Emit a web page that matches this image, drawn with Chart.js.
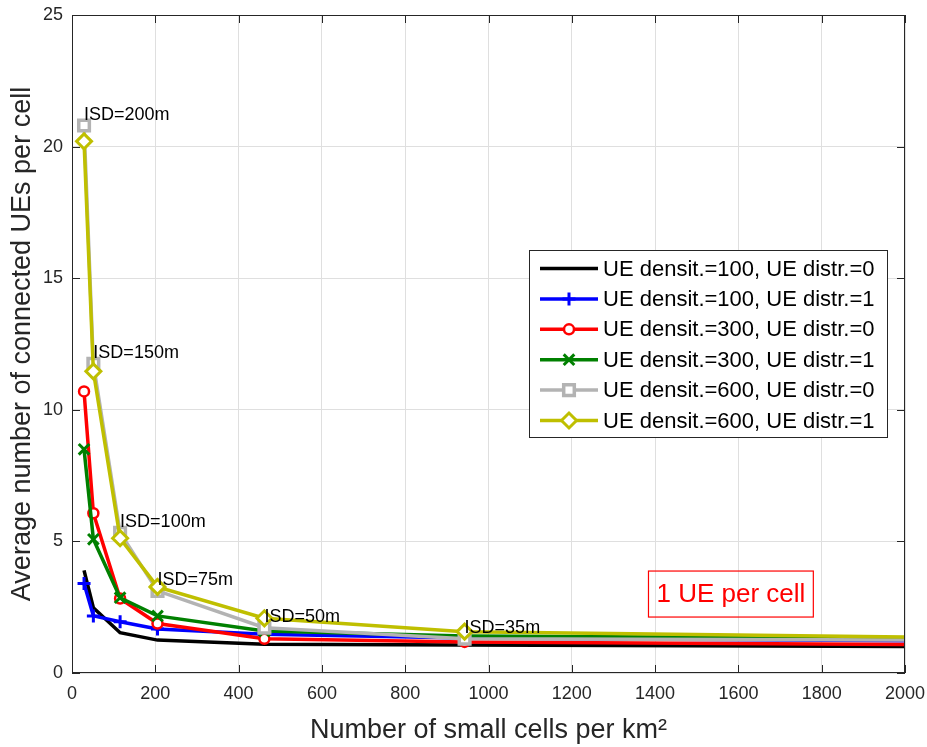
<!DOCTYPE html>
<html>
<head>
<meta charset="utf-8">
<script src="https://cdn.jsdelivr.net/npm/chart.js@4.4.0/dist/chart.umd.min.js"></script>
<style>
  html, body { margin: 0; padding: 0; background: #fff; }
  #chart { display: block; }
</style>
</head>
<body>
<canvas id="chart" width="927" height="747"></canvas>
<script>
// small cell densities (per km^2) for ISD = 200, 150, 100, 75, 50, 35, 20 m
const density = [28.9, 51.3, 115.5, 205.3, 461.9, 942.6, 2887];
const isdLabels = ["ISD=200m", "ISD=150m", "ISD=100m", "ISD=75m", "ISD=50m", "ISD=35m"];

// average connected UEs per cell
const ue100d0 = [3.9, 2.48, 1.53, 1.25, 1.09, 1.06, 0.97];
const ue100d1 = [3.4, 2.17, 1.95, 1.67, 1.47, 1.33, 1.13];
const ue300d0 = [10.7, 6.07, 2.83, 1.88, 1.3, 1.18, 1.01];
const ue300d1 = [8.5, 5.08, 2.86, 2.17, 1.6, 1.41, 1.24];
const ue600d0 = [20.8, 11.75, 5.33, 3.12, 1.72, 1.3, 1.21];
const ue600d1 = [20.2, 11.46, 5.12, 3.27, 2.08, 1.57, 1.2];

const seriesNames = [
  "UE densit.=100, UE distr.=0",
  "UE densit.=100, UE distr.=1",
  "UE densit.=300, UE distr.=0",
  "UE densit.=300, UE distr.=1",
  "UE densit.=600, UE distr.=0",
  "UE densit.=600, UE distr.=1"
];
const noteText = "1 UE per cell";

const FONT = '"Liberation Sans", Arial, Helvetica, sans-serif';
const AXIS_COLOR = "#262626";

function series(name, values, color, style, radius, bw) {
  return {
    label: name,
    data: values.map((v, i) => ({ x: density[i], y: v })),
    borderColor: color,
    backgroundColor: "#fff",
    borderWidth: 3.5,
    pointStyle: style,
    pointRadius: radius,
    pointBorderWidth: bw,
    pointBorderColor: color,
    pointBackgroundColor: "#fff",
    tension: 0,
    clip: 0
  };
}

const datasets = [
  series(seriesNames[0], ue100d0, "#000000", false, 0, 0),
  series(seriesNames[1], ue100d1, "#0000ff", "cross", 6.5, 3),
  series(seriesNames[2], ue300d0, "#ff0000", "circle", 5, 2.5),
  series(seriesNames[3], ue300d1, "#008000", "crossRot", 7.5, 3),
  series(seriesNames[4], ue600d0, "#b3b3b3", "rect", 7.5, 3.5),
  series(seriesNames[5], ue600d1, "#bfbf00", "rectRot", 7.5, 3)
];
// later series are drawn on top
datasets.forEach((d, i) => { d.order = datasets.length - i; });

// inner tick marks and the box around the plot
const boxPlugin = {
  id: "boxPlugin",
  afterDatasetsDraw(chart) {
    const { ctx, chartArea: a, scales: { x, y } } = chart;
    ctx.save();
    ctx.strokeStyle = AXIS_COLOR;
    ctx.lineWidth = 1;
    ctx.beginPath();
    x.ticks.forEach(t => {
      const px = Math.round(x.getPixelForValue(t.value)) + 0.5;
      ctx.moveTo(px, a.bottom); ctx.lineTo(px, a.bottom - 8);
      ctx.moveTo(px, a.top); ctx.lineTo(px, a.top + 8);
    });
    y.ticks.forEach(t => {
      const py = Math.round(y.getPixelForValue(t.value)) + 0.5;
      ctx.moveTo(a.left, py); ctx.lineTo(a.left + 8, py);
      ctx.moveTo(a.right, py); ctx.lineTo(a.right - 8, py);
    });
    ctx.stroke();
    ctx.strokeRect(a.left + 0.5, a.top + 0.5, a.right - a.left - 1, a.bottom - a.top - 1);
    ctx.restore();
  }
};

// ISD labels next to the top markers, plus the boxed note
const notesPlugin = {
  id: "notesPlugin",
  afterDatasetsDraw(chart) {
    const { ctx, scales: { x, y } } = chart;
    ctx.save();
    ctx.font = "18px " + FONT;
    ctx.fillStyle = "#000";
    ctx.textAlign = "left";
    ctx.textBaseline = "middle";
    isdLabels.forEach((txt, i) => {
      ctx.fillText(txt, x.getPixelForValue(density[i]), y.getPixelForValue(ue600d0[i] + 0.4));
    });

    const cx = x.getPixelForValue(1582), cy = y.getPixelForValue(3.0);
    ctx.font = "26px " + FONT;
    const w = ctx.measureText(noteText).width;
    ctx.strokeStyle = "#ff0000";
    ctx.lineWidth = 1.2;
    ctx.strokeRect(cx - w / 2 - 8, cy - 23, w + 16, 46);
    ctx.fillStyle = "#ff0000";
    ctx.textAlign = "center";
    ctx.fillText(noteText, cx, cy + 1);
    ctx.restore();
  }
};

// legend box with line + marker samples
const legendPlugin = {
  id: "legendPlugin",
  afterDraw(chart) {
    const { ctx } = chart;
    const left = 529.5, top = 250.5, width = 358, height = 187;
    ctx.save();
    ctx.fillStyle = "#fff";
    ctx.fillRect(left, top, width, height);
    ctx.strokeStyle = AXIS_COLOR;
    ctx.lineWidth = 1;
    ctx.strokeRect(left, top, width, height);
    ctx.font = "22px " + FONT;
    ctx.textBaseline = "middle";
    ctx.textAlign = "left";
    chart.data.datasets.forEach((d, i) => {
      const yy = 268.5 + i * 30.4;
      ctx.strokeStyle = d.borderColor;
      ctx.lineWidth = d.borderWidth;
      ctx.beginPath();
      ctx.moveTo(540, yy);
      ctx.lineTo(598, yy);
      ctx.stroke();
      if (d.pointStyle) {
        ctx.fillStyle = "#fff";
        ctx.lineWidth = d.pointBorderWidth;
        Chart.helpers.drawPoint(ctx, {
          pointStyle: d.pointStyle,
          radius: d.pointRadius,
          borderWidth: d.pointBorderWidth,
          rotation: 0
        }, 569, yy);
      }
      ctx.fillStyle = "#000";
      ctx.fillText(d.label, 603, yy + 1);
    });
    ctx.restore();
  }
};

new Chart(document.getElementById("chart"), {
  type: "line",
  data: { datasets: datasets },
  options: {
    responsive: false,
    animation: false,
    devicePixelRatio: 1,
    layout: { padding: { left: 0, top: 15, right: 22, bottom: 0 } },
    plugins: {
      legend: { display: false },
      tooltip: { enabled: false }
    },
    scales: {
      x: {
        type: "linear",
        min: 0,
        max: 2000,
        afterFit: (s) => { s.height = 74; s.paddingLeft = 0; s.paddingRight = 0; },
        ticks: {
          stepSize: 200,
          padding: 10,
          maxRotation: 0,
          color: AXIS_COLOR,
          font: { family: FONT, size: 18 },
          callback: (v) => String(v)
        },
        grid: { color: "#dfdfdf", lineWidth: 1, drawTicks: false },
        border: { display: false },
        title: {
          display: true,
          text: "Number of small cells per km²",
          color: AXIS_COLOR,
          font: { family: FONT, size: 27 },
          padding: { top: 0, bottom: 0 }
        }
      },
      y: {
        type: "linear",
        min: 0,
        max: 25,
        afterFit: (s) => { s.width = 72; s.paddingTop = 0; s.paddingBottom = 0; },
        ticks: {
          stepSize: 5,
          padding: 9,
          color: AXIS_COLOR,
          font: { family: FONT, size: 18 }
        },
        grid: { color: "#dfdfdf", lineWidth: 1, drawTicks: false },
        border: { display: false },
        title: {
          display: true,
          text: "Average number of connected UEs per cell",
          color: AXIS_COLOR,
          font: { family: FONT, size: 27 },
          padding: { top: 6, bottom: 0 }
        }
      }
    }
  },
  plugins: [boxPlugin, notesPlugin, legendPlugin]
});
</script>
</body>
</html>
